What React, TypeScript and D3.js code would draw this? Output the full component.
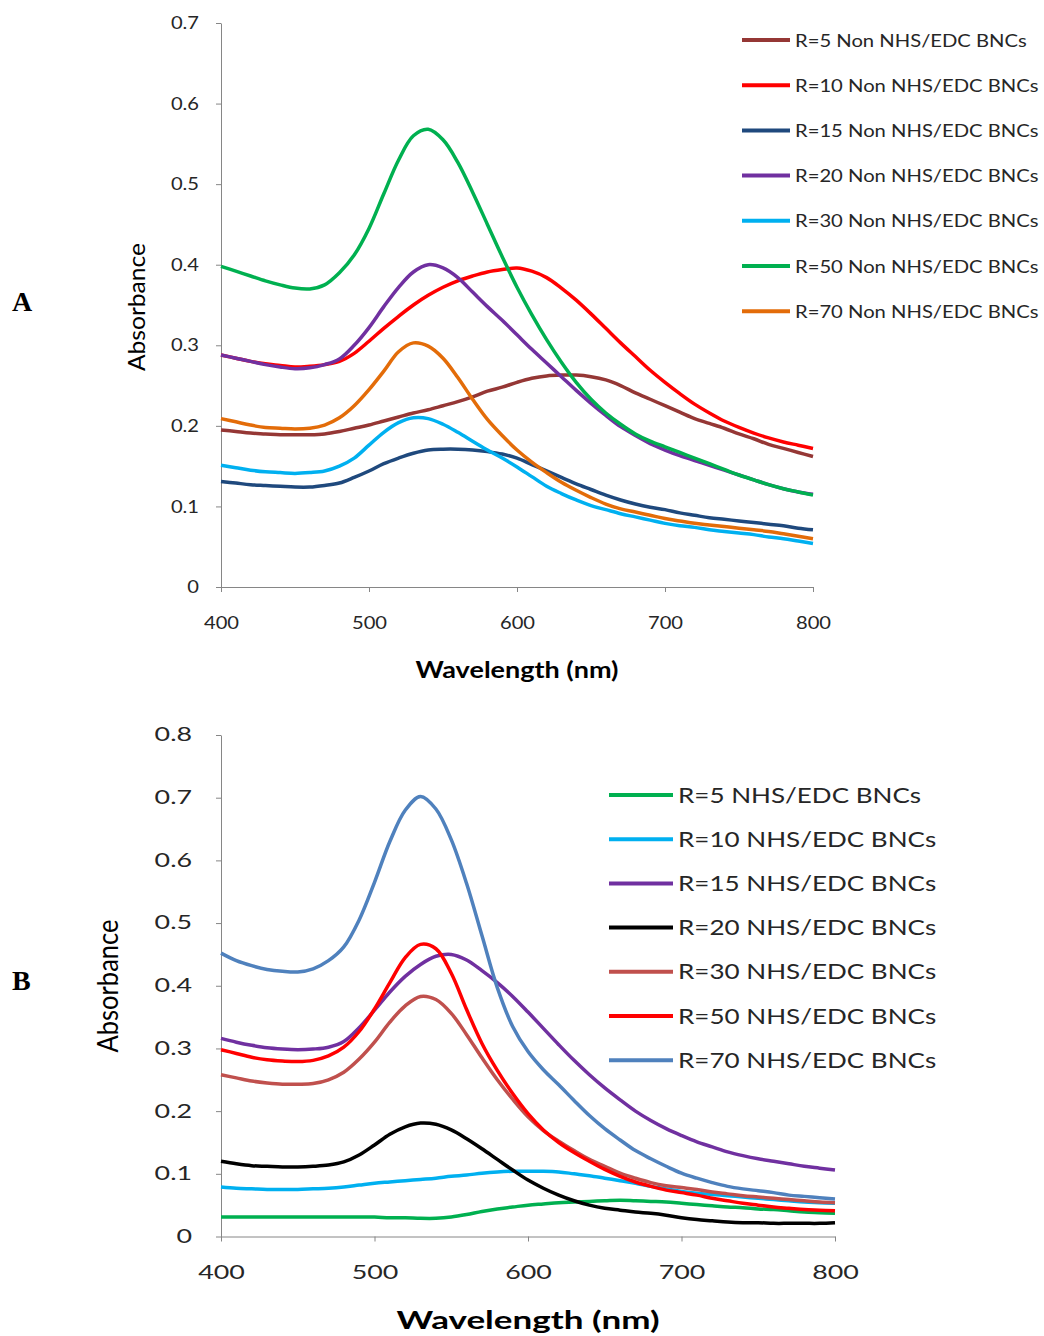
import * as d3 from 'd3';
import React, { useRef, useEffect } from 'react';

const wavelengths = [400, 410, 420, 430, 440, 450, 460, 470, 480, 490, 500, 510, 520, 530, 540, 550, 560, 570, 580, 590, 600,
  610, 620, 630, 640, 650, 660, 670, 680, 690, 700, 710, 720, 730, 740, 750, 760, 770, 780, 790, 800];

// panel A - Non NHS/EDC
const labelsA = ['R=5 Non NHS/EDC BNCs', 'R=10 Non NHS/EDC BNCs', 'R=15 Non NHS/EDC BNCs', 'R=20 Non NHS/EDC BNCs',
  'R=30 Non NHS/EDC BNCs', 'R=50 Non NHS/EDC BNCs', 'R=70 Non NHS/EDC BNCs'];
const colorsA = ['#953735', '#ff0000', '#1f497d', '#7030a0', '#00b0f0', '#00b050', '#e36c09'];
const a_r5 = [0.195, 0.193, 0.191, 0.190, 0.189, 0.189, 0.189, 0.190, 0.193, 0.197, 0.201, 0.206, 0.211, 0.216, 0.220, 0.225, 0.230, 0.236, 0.243, 0.248, 0.254,
  0.259, 0.262, 0.263, 0.263, 0.261, 0.257, 0.250, 0.241, 0.233, 0.225, 0.217, 0.209, 0.203, 0.197, 0.190, 0.184, 0.177, 0.172, 0.167, 0.162];
const a_r10 = [0.288, 0.284, 0.280, 0.277, 0.275, 0.273, 0.274, 0.276, 0.280, 0.290, 0.305, 0.321, 0.336, 0.350, 0.362, 0.372, 0.380, 0.386, 0.391, 0.394, 0.396,
  0.392, 0.384, 0.371, 0.356, 0.339, 0.321, 0.303, 0.286, 0.269, 0.254, 0.240, 0.227, 0.216, 0.206, 0.198, 0.191, 0.185, 0.180, 0.176, 0.172];
const a_r15 = [0.131, 0.129, 0.127, 0.126, 0.125, 0.124, 0.124, 0.126, 0.129, 0.136, 0.144, 0.153, 0.160, 0.166, 0.170, 0.171, 0.171, 0.170, 0.168, 0.165, 0.160,
  0.152, 0.144, 0.136, 0.128, 0.121, 0.114, 0.108, 0.103, 0.099, 0.096, 0.092, 0.089, 0.086, 0.084, 0.082, 0.080, 0.078, 0.076, 0.073, 0.071];
const a_r20 = [0.288, 0.284, 0.280, 0.276, 0.273, 0.271, 0.272, 0.276, 0.283, 0.300, 0.322, 0.348, 0.372, 0.391, 0.400, 0.396, 0.384, 0.366, 0.348, 0.331, 0.313,
  0.295, 0.278, 0.261, 0.244, 0.228, 0.213, 0.199, 0.188, 0.178, 0.170, 0.163, 0.157, 0.151, 0.145, 0.139, 0.133, 0.127, 0.122, 0.118, 0.115];
const a_r30 = [0.151, 0.148, 0.145, 0.143, 0.142, 0.141, 0.142, 0.144, 0.150, 0.160, 0.176, 0.192, 0.204, 0.210, 0.209, 0.202, 0.192, 0.181, 0.170, 0.160, 0.149,
  0.137, 0.125, 0.116, 0.108, 0.101, 0.096, 0.091, 0.087, 0.083, 0.079, 0.076, 0.074, 0.071, 0.069, 0.067, 0.065, 0.062, 0.060, 0.057, 0.054];
const a_r50 = [0.398, 0.392, 0.386, 0.380, 0.375, 0.371, 0.370, 0.375, 0.390, 0.412, 0.445, 0.488, 0.530, 0.560, 0.568, 0.555, 0.527, 0.490, 0.450, 0.410, 0.372,
  0.338, 0.307, 0.279, 0.254, 0.233, 0.216, 0.202, 0.190, 0.181, 0.174, 0.167, 0.160, 0.153, 0.146, 0.139, 0.133, 0.127, 0.122, 0.118, 0.114];
const a_r70 = [0.209, 0.205, 0.201, 0.198, 0.197, 0.196, 0.197, 0.201, 0.210, 0.225, 0.245, 0.268, 0.292, 0.303, 0.299, 0.284, 0.260, 0.233, 0.208, 0.188, 0.170,
  0.155, 0.142, 0.130, 0.120, 0.111, 0.103, 0.097, 0.093, 0.089, 0.085, 0.082, 0.079, 0.077, 0.075, 0.073, 0.071, 0.069, 0.066, 0.063, 0.060];

// panel B - NHS/EDC
const labelsB = ['R=5 NHS/EDC BNCs', 'R=10 NHS/EDC BNCs', 'R=15 NHS/EDC BNCs', 'R=20 NHS/EDC BNCs',
  'R=30 NHS/EDC BNCs', 'R=50 NHS/EDC BNCs', 'R=70 NHS/EDC BNCs'];
const colorsB = ['#00b050', '#00b0f0', '#7030a0', '#000000', '#c0504d', '#ff0000', '#4f81bd'];
const b_r5 = [0.031, 0.031, 0.031, 0.031, 0.031, 0.031, 0.031, 0.031, 0.031, 0.031, 0.031, 0.030, 0.030, 0.029, 0.029, 0.031, 0.035, 0.040, 0.044, 0.047, 0.050,
  0.052, 0.054, 0.055, 0.056, 0.057, 0.058, 0.057, 0.056, 0.055, 0.053, 0.051, 0.049, 0.047, 0.046, 0.044, 0.043, 0.041, 0.039, 0.038, 0.037];
const b_r10 = [0.079, 0.077, 0.076, 0.075, 0.075, 0.075, 0.076, 0.077, 0.079, 0.082, 0.085, 0.087, 0.089, 0.091, 0.093, 0.096, 0.098, 0.101, 0.103, 0.104, 0.104,
  0.104, 0.103, 0.100, 0.097, 0.093, 0.089, 0.085, 0.080, 0.076, 0.072, 0.069, 0.067, 0.065, 0.063, 0.061, 0.059, 0.057, 0.055, 0.054, 0.053];
const b_r15 = [0.316, 0.310, 0.305, 0.301, 0.299, 0.298, 0.299, 0.302, 0.311, 0.333, 0.361, 0.390, 0.415, 0.434, 0.447, 0.450, 0.441, 0.424, 0.405, 0.383, 0.358,
  0.332, 0.306, 0.281, 0.258, 0.237, 0.218, 0.200, 0.185, 0.172, 0.161, 0.151, 0.143, 0.135, 0.129, 0.124, 0.120, 0.116, 0.112, 0.109, 0.106];
const b_r20 = [0.120, 0.116, 0.113, 0.112, 0.111, 0.111, 0.112, 0.114, 0.119, 0.130, 0.146, 0.163, 0.175, 0.181, 0.179, 0.170, 0.156, 0.140, 0.123, 0.106, 0.090,
  0.077, 0.066, 0.057, 0.050, 0.045, 0.042, 0.039, 0.037, 0.034, 0.030, 0.027, 0.025, 0.023, 0.022, 0.022, 0.021, 0.021, 0.021, 0.021, 0.022];
const b_r30 = [0.258, 0.253, 0.248, 0.245, 0.243, 0.243, 0.244, 0.250, 0.262, 0.283, 0.310, 0.342, 0.368, 0.383, 0.378, 0.356, 0.322, 0.285, 0.250, 0.219, 0.191,
  0.169, 0.152, 0.137, 0.123, 0.112, 0.101, 0.093, 0.086, 0.081, 0.078, 0.075, 0.071, 0.068, 0.065, 0.063, 0.061, 0.059, 0.057, 0.055, 0.054];
const b_r50 = [0.298, 0.292, 0.286, 0.282, 0.280, 0.279, 0.281, 0.288, 0.302, 0.327, 0.363, 0.405, 0.445, 0.466, 0.459, 0.420, 0.362, 0.308, 0.265, 0.228, 0.196,
  0.170, 0.150, 0.134, 0.120, 0.107, 0.096, 0.087, 0.080, 0.074, 0.070, 0.066, 0.061, 0.057, 0.053, 0.050, 0.047, 0.045, 0.043, 0.042, 0.041];
const b_r70 = [0.452, 0.440, 0.432, 0.426, 0.423, 0.422, 0.427, 0.440, 0.462, 0.505, 0.565, 0.630, 0.680, 0.702, 0.682, 0.633, 0.563, 0.480, 0.397, 0.335, 0.295,
  0.266, 0.242, 0.217, 0.193, 0.172, 0.154, 0.137, 0.124, 0.112, 0.101, 0.093, 0.086, 0.080, 0.076, 0.073, 0.070, 0.066, 0.064, 0.062, 0.060];

const xTicks = [400, 500, 600, 700, 800];
const yTicksA = [0, 0.1, 0.2, 0.3, 0.4, 0.5, 0.6, 0.7];
const yTicksB = [0, 0.1, 0.2, 0.3, 0.4, 0.5, 0.6, 0.7, 0.8];

const AXIS = '#868686';
const TEXT = '#262626';

// measure and stretch text horizontally (the source image is widened)
function stretch(sel, factor) {
  sel.each(function () {
    const w = this.getComputedTextLength();
    d3.select(this).attr('textLength', w * factor).attr('lengthAdjust', 'spacingAndGlyphs');
  });
}

function drawPanel(svg, p) {
  const g = svg.append('g');
  const x = d3.scaleLinear().domain([400, 800]).range(p.xRange);
  const y = d3.scaleLinear().domain([0, p.yMax]).range(p.yRange);

  const yAxis = g.append('g')
    .attr('transform', `translate(${p.xRange[0]},0)`)
    .call(d3.axisLeft(y).tickValues(p.yTicks).tickSize(5).tickSizeOuter(0).tickPadding(p.yPad)
      .tickFormat(d => d === 0 ? '0' : d3.format('.1f')(d)));
  const xAxis = g.append('g')
    .attr('transform', `translate(0,${p.yRange[0]})`)
    .call(d3.axisBottom(x).tickValues(xTicks).tickSize(5).tickSizeOuter(0).tickPadding(p.xPad));

  [xAxis, yAxis].forEach(a => {
    a.select('.domain').attr('stroke', AXIS);
    a.selectAll('.tick line').attr('stroke', AXIS);
    a.selectAll('text').attr('fill', TEXT).style('font-family', p.font).style('font-size', p.tickSize + 'px');
    stretch(a.selectAll('text'), p.tickStretch);
  });

  const line = d3.line()
    .x((d, i) => x(wavelengths[i]))
    .y(d => y(d))
    .curve(d3.curveCatmullRom.alpha(0.5));

  g.append('g').selectAll('path')
    .data(p.series)
    .join('path')
    .attr('d', d => line(d))
    .attr('fill', 'none')
    .attr('stroke', (d, i) => p.colors[i])
    .attr('stroke-width', 3.5)
    .attr('stroke-linejoin', 'round');

  // legend
  const leg = g.append('g').selectAll('g')
    .data(p.labels)
    .join('g')
    .attr('transform', (d, i) => `translate(0,${p.legY + i * p.legStep})`);
  leg.append('line')
    .attr('x1', p.legX1).attr('x2', p.legX2)
    .attr('stroke', (d, i) => p.colors[i])
    .attr('stroke-width', 4);
  const legText = leg.append('text')
    .attr('x', p.legX2 + 5)
    .attr('y', p.legDy)
    .attr('fill', TEXT)
    .style('font-family', p.font)
    .style('font-size', p.legSize + 'px')
    .text(d => d);
  stretch(legText, p.legStretch);

  // axis titles
  g.append('text')
    .attr('x', (p.xRange[0] + p.xRange[1]) / 2)
    .attr('y', p.xTitleY)
    .attr('text-anchor', 'middle')
    .attr('fill', '#000')
    .attr('textLength', p.xTitleW)
    .attr('lengthAdjust', 'spacingAndGlyphs')
    .style('font-family', p.font)
    .style('font-weight', 'bold')
    .style('font-size', p.xTitleSize + 'px')
    .text('Wavelength (nm)');

  g.append('text')
    .attr('transform', `translate(${p.yTitleX},${p.yTitleY}) rotate(-90)`)
    .attr('text-anchor', 'middle')
    .attr('fill', '#000')
    .attr('textLength', p.yTitleW)
    .attr('lengthAdjust', 'spacingAndGlyphs')
    .style('font-family', p.font)
    .style('font-size', p.yTitleSize + 'px')
    .text('Absorbance');

  g.append('text')
    .attr('x', 12)
    .attr('y', p.letterY)
    .attr('fill', '#000')
    .style('font-family', '"Liberation Serif", serif')
    .style('font-weight', 'bold')
    .style('font-size', '28px')
    .text(p.letter);
}

function App() {
  const ref = useRef();

  useEffect(() => {
    const svg = d3.select(ref.current);
    svg.selectAll('*').remove();

    drawPanel(svg, {
      letter: 'A', letterY: 311,
      xRange: [221, 813], yRange: [587, 23], yMax: 0.7, yTicks: yTicksA,
      font: 'Lato, sans-serif', tickSize: 17.5, tickStretch: 1.15, xPad: 25, yPad: 17,
      series: [a_r5, a_r10, a_r15, a_r20, a_r30, a_r50, a_r70], colors: colorsA, labels: labelsA,
      legX1: 742, legX2: 790, legY: 40, legStep: 45.2, legDy: 6.5, legSize: 17.5, legStretch: 1.155,
      xTitleY: 678, xTitleW: 203, xTitleSize: 22,
      yTitleX: 145, yTitleY: 307, yTitleW: 128, yTitleSize: 23,
    });

    drawPanel(svg, {
      letter: 'B', letterY: 990,
      xRange: [221, 835], yRange: [1236.5, 735], yMax: 0.8, yTicks: yTicksB,
      font: 'Lato, sans-serif', tickSize: 18.5, tickStretch: 1.45, xPad: 24.4, yPad: 24,
      series: [b_r5, b_r10, b_r15, b_r20, b_r30, b_r50, b_r70], colors: colorsB, labels: labelsB,
      legX1: 609, legX2: 673, legY: 795, legStep: 44.2, legDy: 7.5, legSize: 20.5, legStretch: 1.27,
      xTitleY: 1329, xTitleW: 263, xTitleSize: 25,
      yTitleX: 118, yTitleY: 986, yTitleW: 133, yTitleSize: 28,
    });
  }, []);

  return (
    <svg ref={ref} width={1044} height={1336}
      style={{ position: 'absolute', left: 0, top: 0, background: '#fff' }}>
    </svg>
  );
}

export default App;
